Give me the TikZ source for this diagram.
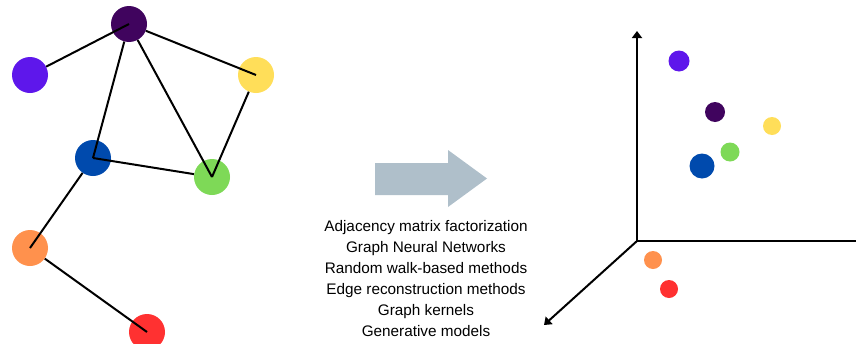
\documentclass[tikz,border=0pt]{standalone}
\usepackage{fontspec}
\setmainfont{Liberation Sans}
\usetikzlibrary{arrows.meta}
\definecolor{cdp}{HTML}{40045E}
\definecolor{cvi}{HTML}{5E17EB}
\definecolor{cye}{HTML}{FFDE59}
\definecolor{cbl}{HTML}{004AAD}
\definecolor{cgr}{HTML}{7ED957}
\definecolor{cor}{HTML}{FF914D}
\definecolor{cre}{HTML}{FF3131}
\definecolor{carrow}{HTML}{AFBFCA}
\begin{document}
\begin{tikzpicture}[x=1pt,y=-1pt,
  gnode/.style={circle,minimum size=36pt,inner sep=0pt},
  pt/.style={circle,inner sep=0pt},
  edge/.style={line width=2pt,black},
  axis/.style={line width=2pt,black},
  tip/.style={-{Triangle[length=7pt,width=10pt]}},
  lbl/.style={font=\fontsize{15.3}{18}\selectfont,anchor=base,inner sep=0pt}]
\useasboundingbox (0,0) rectangle (856,343);
% graph nodes
\node[gnode,fill=cdp] (dp) at (129,24) {};
\node[gnode,fill=cvi] (vi) at (30,75) {};
\node[gnode,fill=cye] (ye) at (256,75) {};
\node[gnode,fill=cbl] (bl) at (93,158) {};
\node[gnode,fill=cgr] (gr) at (212,177) {};
\node[gnode,fill=cor] (or) at (30,248) {};
\node[gnode,fill=cre] (re) at (147,332) {};
% edges
\draw[edge] (dp.center) -- (vi);
\draw[edge] (ye.center) -- (dp);
\draw[edge] (bl.center) -- (dp);
\draw[edge] (gr.center) -- (dp);
\draw[edge] (gr.center) -- (ye);
\draw[edge] (bl.center) -- (gr);
\draw[edge] (or.center) -- (bl);
\draw[edge] (re.center) -- (or);
% big arrow
\fill[carrow] (375,163) -- (448,163) -- (448,150) -- (487,178.5) -- (448,207)
  -- (448,195) -- (375,195) -- cycle;
% methods text
\node[lbl] (t1) at (426,231) {Adjacency matrix factorization};
\node[lbl] (t2) at (426,252) {Graph Neural Networks};
\node[lbl] (t3) at (426,273) {Random walk-based methods};
\node[lbl] (t4) at (426,294) {Edge reconstruction methods};
\node[lbl] (t5) at (426,315) {Graph kernels};
\node[lbl] (t6) at (426,336) {Generative models};
% axes
\coordinate (o) at (637,241);
\coordinate (yend) at (637,31);
\coordinate (xend) at (858,241);
\coordinate (zend) at (544,325);
\draw[axis,tip] (o) -- (yend);
\draw[axis] (o) -- (xend);
\draw[axis,tip] (o) -- (zend);
% embedded points
\node[pt,fill=cvi,minimum size=21pt] (pvi) at (679,61) {};
\node[pt,fill=cdp,minimum size=20pt] (pdp) at (715,112) {};
\node[pt,fill=cye,minimum size=18pt] (pye) at (772,126) {};
\node[pt,fill=cgr,minimum size=19pt] (pgr) at (730,152) {};
\node[pt,fill=cbl,minimum size=25pt] (pbl) at (702,166) {};
\node[pt,fill=cor,minimum size=18pt] (por) at (653,260) {};
\node[pt,fill=cre,minimum size=18pt] (pre) at (669,289) {};
\end{tikzpicture}
\end{document}
